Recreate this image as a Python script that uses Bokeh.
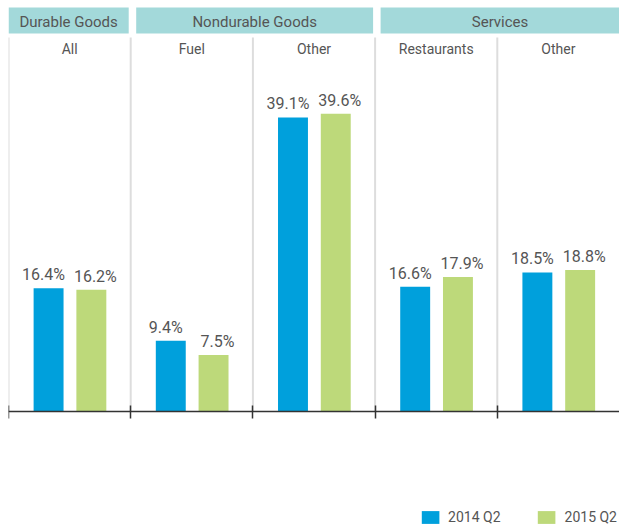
from bokeh.plotting import figure
from bokeh.models import Range1d, LinearAxis, FixedTicker, ColumnDataSource, Legend, LegendItem
from bokeh.core.properties import value
from bokeh.transform import dodge
from bokeh.embed import file_html
from bokeh.resources import INLINE

# ---- data ----
groups = ["Durable Goods", "Nondurable Goods", "Services"]
group_sizes = [1, 2, 2]
subcats = ["All", "Fuel", "Other", "Restaurants", "Other"]
v2014 = [16.4, 9.4, 39.1, 16.6, 18.5]
v2015 = [16.2, 7.5, 39.6, 17.9, 18.8]
series = ["2014 Q2", "2015 Q2"]

BLUE = "#00a0dc"
GREEN = "#bdd97a"
TEAL = "#a3d9da"
TXT = "#555555"
FONT = value("Roboto")

W, H = 619, 527
LEFT = 8
ppu = 7.52            # pixels per percentage point
axis_px = 411         # pixel row (from figure top) of the zero line
y_top = axis_px / ppu
y_bot = -(H - axis_px) / ppu
n = len(subcats)
colpx = (W - LEFT) / n

def ypix(px):
    return y_top - px / ppu

p = figure(width=W, height=H, output_backend="svg", toolbar_location=None,
           x_range=Range1d(0, n), y_range=Range1d(y_bot, y_top),
           x_axis_type=None, y_axis_type=None,
           min_border=0, min_border_left=LEFT)
p.outline_line_color = None
p.grid.visible = False
p.background_fill_color = "white"

xs = [i + 0.5 for i in range(n)]
src = ColumnDataSource(dict(x=xs, sub=subcats, a=v2014, b=v2015,
                            la=[f"{v:.1f}%" for v in v2014],
                            lb=[f"{v:.1f}%" for v in v2015]))

# dividers
bounds = list(range(n))
p.segment(x0=bounds, x1=bounds, y0=[ypix(37)] * n, y1=[0] * n,
          line_color="#dddddd", line_width=2)

# header bands
starts, ends = [], []
c = 0
for s in group_sizes:
    starts.append(c)
    ends.append(c + s)
    c += s
lefts = [st + (5.5 / colpx if st > 0 else 0) for st in starts]
rights = [en - (2 / colpx if en < n else 0) for en in ends]
p.quad(left=lefts, right=rights, top=[ypix(7)] * len(groups), bottom=[ypix(33)] * len(groups),
       fill_color=TEAL, line_color=None)
p.text(x=[(a + b) / 2 for a, b in zip(lefts, rights)], y=[ypix(21)] * len(groups), text=groups,
       text_font=FONT, text_font_size="15px", text_color=TXT,
       text_align="center", text_baseline="middle")

# subheaders
p.text(x=xs, y=[ypix(48)] * n, text=subcats, text_font=FONT, text_font_size="14px",
       text_color=TXT, text_align="center", text_baseline="middle")

# bars
r1 = p.vbar(x=dodge("x", -0.172, range=p.x_range), top="a", width=0.245, bottom=0,
            source=src, fill_color=BLUE, line_color=None)
r2 = p.vbar(x=dodge("x", 0.178, range=p.x_range), top="b", width=0.245, bottom=0,
            source=src, fill_color=GREEN, line_color=None)

p.text(x=dodge("x", -0.172, range=p.x_range), y="a", text="la", source=src,
       text_font=FONT, text_font_size="16px", text_color=TXT,
       text_align="center", text_baseline="bottom", y_offset=-4, x_offset=-5)
p.text(x=dodge("x", 0.178, range=p.x_range), y="b", text="lb", source=src,
       text_font=FONT, text_font_size="16px", text_color=TXT,
       text_align="center", text_baseline="bottom", y_offset=-4, x_offset=4)

# axis at zero
ax = LinearAxis(fixed_location=0, ticker=FixedTicker(ticks=bounds),
                axis_line_color="#333333", axis_line_width=1.5,
                major_tick_line_color="#333333", major_tick_line_width=1.5,
                major_tick_in=6, major_tick_out=7, minor_tick_line_color=None,
                major_label_text_font_size="0px", major_label_text_color=None)
p.add_layout(ax, "below")

legend = Legend(items=[LegendItem(label=series[0], renderers=[r1]),
                       LegendItem(label=series[1], renderers=[r2])],
                orientation="horizontal", location="bottom_right",
                glyph_width=22, glyph_height=16, spacing=35,
                label_text_font="Roboto", label_text_font_size="14px",
                label_text_color=TXT, border_line_color=None,
                background_fill_alpha=0, margin=2, padding=2,
                label_standoff=7)
p.add_layout(legend)

open("out.html", "w").write(file_html(p, INLINE))
